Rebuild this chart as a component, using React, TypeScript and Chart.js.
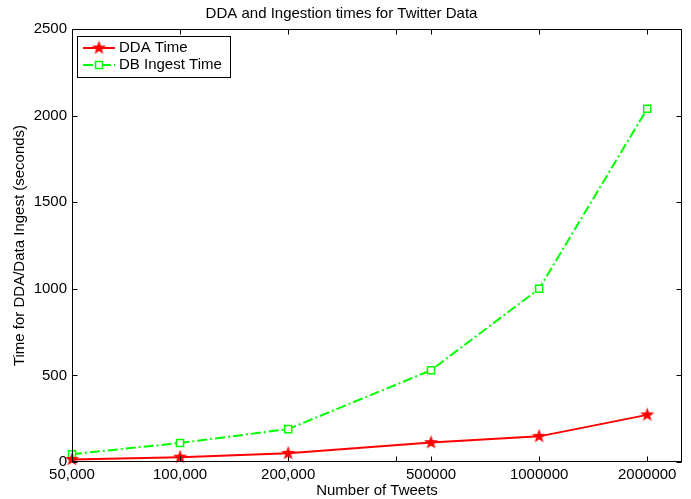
import { useEffect, useRef } from "react";
import { Chart, registerables } from "chart.js";

Chart.register(...registerables);

const chartTitle = "DDA and Ingestion times for Twitter Data";
const xAxisTitle = "Number of Tweets";
const yAxisTitle = "Time for DDA/Data Ingest (seconds)";
const tweetCounts = [50000, 100000, 200000, 500000, 1000000, 2000000];
const xTickLabels = ["50,000", "100,000", "200,000", "500000", "1000000", "2000000"];
const xMinorTicks = [400000];
const yTicks = [0, 500, 1000, 1500, 2000, 2500];
const ddaTime = [15, 28, 50, 112, 148, 272];
const dbIngestTime = [45, 110, 190, 530, 1000, 2040];
const seriesLabels = ["DDA Time", "DB Ingest Time"];

const RED = "#ff0000";
const GREEN = "#00ff00";
const DASH = [10, 3, 2, 3];
const FONT = "'Liberation Sans', Arial, Helvetica, sans-serif";

function makeStar(color: string, outer: number, inner: number) {
  const c = document.createElement("canvas");
  const s = Math.ceil(outer * 2 + 2);
  c.width = s;
  c.height = s;
  const ctx = c.getContext("2d")!;
  ctx.beginPath();
  for (let i = 0; i < 10; i++) {
    const r = i % 2 === 0 ? outer : inner;
    const a = -Math.PI / 2 + (i * Math.PI) / 5;
    ctx.lineTo(s / 2 + r * Math.cos(a), s / 2 + r * Math.sin(a));
  }
  ctx.closePath();
  ctx.fillStyle = color;
  ctx.fill();
  return c;
}

export default function App() {
  const ref = useRef<HTMLCanvasElement | null>(null);

  useEffect(() => {
    if (!ref.current) return;
    const star = makeStar(RED, 7.5, 3);

    const framePlugin = {
      id: "matlabFrame",
      afterDatasetsDraw(chart: any) {
        const { ctx, chartArea } = chart;
        const xs = chart.scales.x;
        const ys = chart.scales.y;
        const l = Math.round(chartArea.left) + 0.5;
        const r = Math.round(chartArea.right) - 0.5;
        const t = Math.round(chartArea.top) + 0.5;
        const b = Math.round(chartArea.bottom) - 0.5;
        ctx.save();
        ctx.strokeStyle = "#000";
        ctx.lineWidth = 1;
        ctx.setLineDash([]);
        ctx.strokeRect(l, t, r - l, b - t);
        const tl = 5;
        ctx.beginPath();
        [...tweetCounts, ...xMinorTicks].forEach((v) => {
          const px = Math.round(xs.getPixelForValue(v)) + 0.5;
          ctx.moveTo(px, b);
          ctx.lineTo(px, b - tl);
          ctx.moveTo(px, t);
          ctx.lineTo(px, t + tl);
        });
        yTicks.forEach((v) => {
          const py = Math.round(ys.getPixelForValue(v)) + 0.5;
          ctx.moveTo(l, py);
          ctx.lineTo(l + tl, py);
          ctx.moveTo(r, py);
          ctx.lineTo(r - tl, py);
        });
        ctx.stroke();

        // legend
        const lx = 77.5, ly = 36.5, lw = 153, lh = 41;
        ctx.fillStyle = "#fff";
        ctx.fillRect(lx, ly, lw, lh);
        ctx.strokeRect(lx, ly, lw, lh);
        const rows = [48, 65];
        const sx0 = 83, sx1 = 115, mx = 99;
        ctx.strokeStyle = RED;
        ctx.lineWidth = 2;
        ctx.beginPath();
        ctx.moveTo(sx0, rows[0]);
        ctx.lineTo(sx1, rows[0]);
        ctx.stroke();
        ctx.drawImage(star, mx - star.width / 2, rows[0] - star.height / 2);
        ctx.strokeStyle = GREEN;
        ctx.setLineDash(DASH);
        ctx.beginPath();
        ctx.moveTo(sx0, rows[1]);
        ctx.lineTo(sx1, rows[1]);
        ctx.stroke();
        ctx.setLineDash([]);
        ctx.lineWidth = 1.5;
        ctx.fillStyle = "#fff";
        ctx.fillRect(mx - 3.5, rows[1] - 3.5, 7, 7);
        ctx.strokeRect(mx - 3.5, rows[1] - 3.5, 7, 7);
        ctx.fillStyle = "#000";
        ctx.font = `15px ${FONT}`;
        ctx.textBaseline = "middle";
        ctx.textAlign = "left";
        ctx.fillText(chart.data.datasets[0].label, 119, rows[0]);
        ctx.fillText(chart.data.datasets[1].label, 119, rows[1]);
        ctx.restore();
      },
    };

    const chart = new Chart(ref.current, {
      type: "line",
      data: {
        datasets: [
          {
            label: seriesLabels[0],
            data: tweetCounts.map((x, i) => ({ x, y: ddaTime[i] })),
            borderColor: RED,
            borderWidth: 2,
            pointStyle: star as any,
            pointRadius: 7,
            pointBackgroundColor: RED,
            pointBorderColor: RED,
            clip: false as any,
            tension: 0,
          },
          {
            label: seriesLabels[1],
            data: tweetCounts.map((x, i) => ({ x, y: dbIngestTime[i] })),
            borderColor: GREEN,
            borderWidth: 2,
            borderDash: DASH,
            pointStyle: "rect",
            pointRadius: 5,
            pointBorderWidth: 1.5,
            pointBackgroundColor: "#fff",
            pointBorderColor: GREEN,
            clip: false as any,
            tension: 0,
          },
        ],
      },
      options: {
        responsive: false,
        animation: false,
        events: [],
        layout: { padding: { left: 0, right: 8, top: 0, bottom: 0 } },
        plugins: {
          legend: { display: false },
          tooltip: { enabled: false },
          title: {
            display: true,
            text: chartTitle,
            color: "#000",
            font: { family: FONT, size: 15, weight: "normal", lineHeight: 1.2 },
            padding: { top: 5, bottom: 6 },
          },
        },
        scales: {
          x: {
            type: "logarithmic",
            min: 50000,
            max: 2500000,
            grid: { display: false, drawTicks: false },
            border: { display: false },
            afterBuildTicks: (scale: any) => {
              scale.ticks = tweetCounts.map((v) => ({ value: v }));
            },
            afterFit: (scale: any) => {
              scale.height = 37;
            },
            ticks: {
              autoSkip: false,
              maxRotation: 0,
              padding: 4,
              color: "#000",
              font: { family: FONT, size: 15, lineHeight: 1.2 },
              callback: (_v: any, i: number) => xTickLabels[i],
            },
            title: {
              display: true,
              text: xAxisTitle,
              color: "#000",
              font: { family: FONT, size: 15, lineHeight: 1.2 },
              padding: { top: 0, bottom: -1 },
            },
          },
          y: {
            type: "linear",
            min: 0,
            max: 2500,
            grid: { display: false, drawTicks: false },
            border: { display: false },
            afterBuildTicks: (scale: any) => {
              scale.ticks = yTicks.map((v) => ({ value: v }));
            },
            afterFit: (scale: any) => {
              scale.width = 72;
            },
            ticks: {
              padding: 5,
              color: "#000",
              font: { family: FONT, size: 15, lineHeight: 1.2 },
              callback: (v: any) => String(v),
            },
            title: {
              display: true,
              text: yAxisTitle,
              color: "#000",
              font: { family: FONT, size: 15, lineHeight: 1.2 },
              padding: { top: 11, bottom: 0 },
            },
          },
        },
      },
      plugins: [framePlugin],
    });
    return () => chart.destroy();
  }, []);

  return (
    <div style={{ position: "absolute", left: 0, top: 0, width: 691, height: 499, background: "#fff" }}>
      <canvas ref={ref} width={691} height={499} />
    </div>
  );
}
